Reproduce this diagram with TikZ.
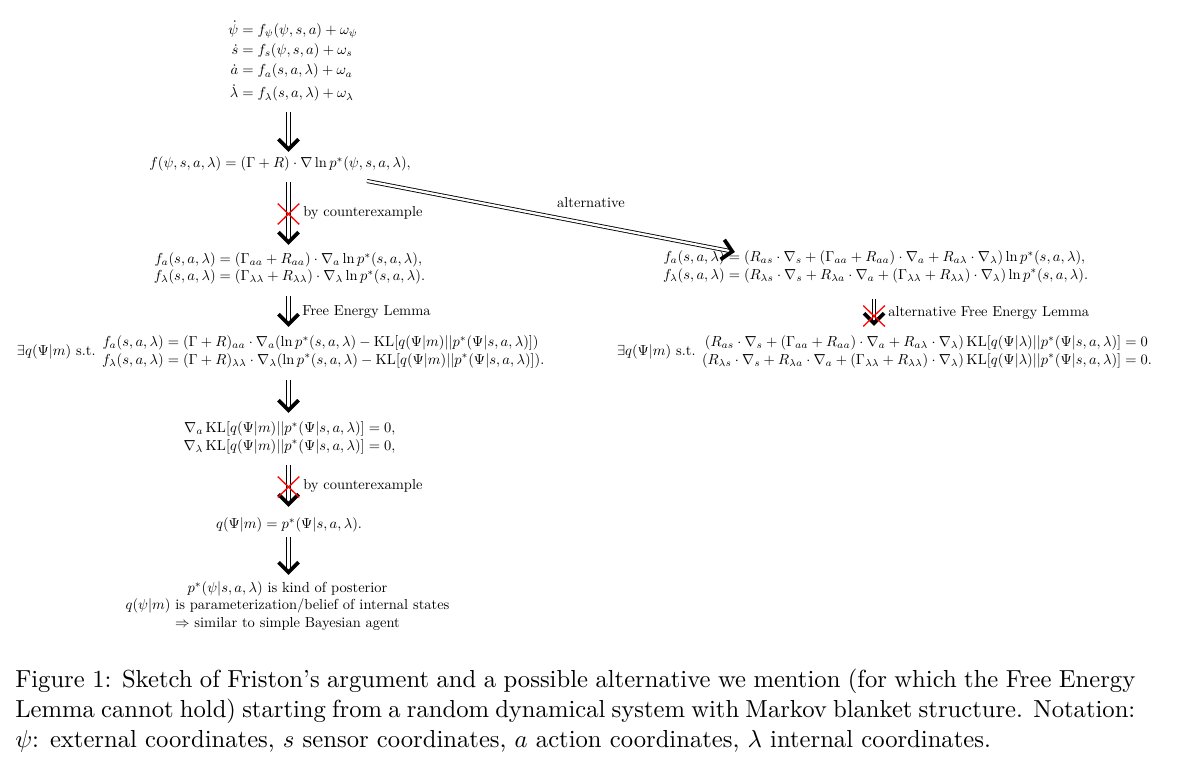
\documentclass[tikz,border=0pt]{standalone}
\usepackage{amsmath,amssymb}
\usepackage{graphicx}
\usetikzlibrary{calc,decorations.markings,shapes.misc}
\setlength{\arraycolsep}{0pt}
\begin{document}
\begin{tikzpicture}[x=0.69pt, y=-0.69pt,
  txt/.style={inner sep=0pt, outer sep=0pt},
  shaft/.style={double, double distance=1.6pt, line width=0.6pt, shorten >=2.5pt},
  headmark/.style={decorate, decoration={markings, mark=at position 1 with {\draw[line width=2.6pt, line join=miter] (-8.8pt,6.9pt) -- (-1.9pt,0pt) -- (-8.8pt,-6.9pt);}}},
  cross/.style={cross out, draw=red, line width=0.9pt, minimum width=14pt, minimum height=13.5pt, inner sep=0pt},
  lab/.style={inner sep=0pt, anchor=west},
]
\useasboundingbox (0,0) rectangle (1200,775);
\coordinate (spine) at (288.5,0);
\coordinate (spineR) at (874,0);

% left column
\node[txt] (e1) at (293,62) {\setlength{\jot}{2pt}$\begin{aligned}
 \dot\psi &= f_\psi(\psi,s,a)+\omega_\psi\\
 \dot s &= f_s(\psi,s,a)+\omega_s\\
 \dot a &= f_a(s,a,\lambda)+\omega_a\\
 \dot\lambda &= f_\lambda(s,a,\lambda)+\omega_\lambda
\end{aligned}$};

\node[txt] (e2) at (280,164) {$f(\psi,s,a,\lambda) = (\Gamma+R)\cdot\nabla\ln p^*(\psi,s,a,\lambda),$};

\node[txt] (e3) at (289.5,268.5) {$\begin{array}{r@{}l}
 f_a(s,a,\lambda) &{}= (\Gamma_{aa}+R_{aa})\cdot\nabla_a\ln p^*(s,a,\lambda),\\
 f_\lambda(s,a,\lambda) &{}= (\Gamma_{\lambda\lambda}+R_{\lambda\lambda})\cdot\nabla_\lambda\ln p^*(s,a,\lambda).
\end{array}$};

\node[txt, anchor=west] (e4) at (17,352) {$\exists q(\Psi|m)\text{ s.t. }\begin{array}{r@{}l}
 f_a(s,a,\lambda) &{}= (\Gamma+R)_{aa}\cdot\nabla_a(\ln p^*(s,a,\lambda)-\operatorname{KL}[q(\Psi|m)||p^*(\Psi|s,a,\lambda)])\\
 f_\lambda(s,a,\lambda) &{}= (\Gamma+R)_{\lambda\lambda}\cdot\nabla_\lambda(\ln p^*(s,a,\lambda)-\operatorname{KL}[q(\Psi|m)||p^*(\Psi|s,a,\lambda)]).
\end{array}$};

\node[txt] (e5) at (289.5,438) {$\begin{array}{r@{}l}
 \nabla_a\operatorname{KL}[q(\Psi|m)||p^*(\Psi|s,a,\lambda)] &{}= 0,\\
 \nabla_\lambda\operatorname{KL}[q(\Psi|m)||p^*(\Psi|s,a,\lambda)] &{}= 0,
\end{array}$};

\node[txt] (e6) at (289,525) {$q(\Psi|m) = p^*(\Psi|s,a,\lambda).$};

\node[txt, align=center] (e7) at (287.5,606) {$p^*(\psi|s,a,\lambda)$ is kind of posterior\\
 $q(\psi|m)$ is parameterization/belief of internal states\\
 $\Rightarrow$ similar to simple Bayesian agent};

% right column
\node[txt, anchor=west] (e3r) at (663,267) {$\begin{array}{r@{}l}
 f_a(s,a,\lambda) &{}= (R_{as}\cdot\nabla_s+(\Gamma_{aa}+R_{aa})\cdot\nabla_a+R_{a\lambda}\cdot\nabla_\lambda)\ln p^*(s,a,\lambda),\\
 f_\lambda(s,a,\lambda) &{}= (R_{\lambda s}\cdot\nabla_s+R_{\lambda a}\cdot\nabla_a+(\Gamma_{\lambda\lambda}+R_{\lambda\lambda})\cdot\nabla_\lambda)\ln p^*(s,a,\lambda).
\end{array}$};

\node[txt, anchor=west] (e4r) at (617,352) {$\exists q(\Psi|m)\text{ s.t. }\begin{array}{r@{}l}
 (R_{as}\cdot\nabla_s+(\Gamma_{aa}+R_{aa})\cdot\nabla_a+R_{a\lambda}\cdot\nabla_\lambda)\operatorname{KL}[q(\Psi|\lambda)||p^*(\Psi|s,a,\lambda)] &{}= 0\\
 (R_{\lambda s}\cdot\nabla_s+R_{\lambda a}\cdot\nabla_a+(\Gamma_{\lambda\lambda}+R_{\lambda\lambda})\cdot\nabla_\lambda)\operatorname{KL}[q(\Psi|\lambda)||p^*(\Psi|s,a,\lambda)] &{}= 0.
\end{array}$};

% arrows
\draw[shaft] ($(e1.center -| spine)+(0,50)$) -- ($(e2.center -| spine)+(0,-12)$);
\path[headmark] ($(e1.center -| spine)+(0,50)$) -- ($(e2.center -| spine)+(0,-12)$);

\draw[shaft] ($(e2.center -| spine)+(0,18)$) -- ($(e3.center -| spine)+(0,-23.5)$);
\path[headmark] ($(e2.center -| spine)+(0,18)$) -- ($(e3.center -| spine)+(0,-23.5)$);

\draw[shaft] ($(e3.center -| spine)+(0,27.5)$) -- ($(e4.center -| spine)+(0,-25)$);
\path[headmark] ($(e3.center -| spine)+(0,27.5)$) -- ($(e4.center -| spine)+(0,-25)$);

\draw[shaft] ($(e4.center -| spine)+(0,28)$) -- ($(e5.center -| spine)+(0,-25)$);
\path[headmark] ($(e4.center -| spine)+(0,28)$) -- ($(e5.center -| spine)+(0,-25)$);

\draw[shaft] ($(e5.center -| spine)+(0,27)$) -- ($(e6.center -| spine)+(0,-18)$);
\path[headmark] ($(e5.center -| spine)+(0,27)$) -- ($(e6.center -| spine)+(0,-18)$);

\draw[shaft] ($(e6.center -| spine)+(0,12)$) -- ($(e7.center -| spine)+(0,-31)$);
\path[headmark] ($(e6.center -| spine)+(0,12)$) -- ($(e7.center -| spine)+(0,-31)$);

\draw[shaft] ($(e2.center)+(87,17)$) -- ($(e3r.west)+(72,-15)$);
\path[headmark] ($(e2.center)+(87,17)$) -- ($(e3r.west)+(72,-15)$);

\draw[shaft] ($(e3r.west -| spineR)+(0,32)$) -- ($(e4r.west -| spineR)+(0,-26)$);
\path[headmark] ($(e3r.west -| spineR)+(0,32)$) -- ($(e4r.west -| spineR)+(0,-26)$);

% crosses
\node[cross] (x1) at (288.5,214) {};
\node[cross] (x2) at (288.5,487) {};
\node[cross] (x3) at (874,316) {};

% labels
\node[lab] (l1) at (303,213) {by counterexample};
\node[lab] (l2) at (302,312) {Free Energy Lemma};
\node[lab] (l3) at (303,486) {by counterexample};
\node[lab] (l4) at (888,313) {alternative Free Energy Lemma};
\node[inner sep=0pt] (l5) at (591,203) {alternative};

% caption
\node[anchor=north west, inner sep=0pt] (cap) at (15,669)
{\scalebox{1.7}{\parbox[t]{454.6pt}{\fontsize{10}{12.1}\selectfont\hyphenpenalty=10000\exhyphenpenalty=10000
Figure 1: Sketch of Friston's argument and a possible alternative we mention (for which the Free Energy\linebreak
Lemma cannot hold) starting from a random dynamical system with Markov blanket structure. Notation:\linebreak
$\psi$: external coordinates, $s$ sensor coordinates, $a$ action coordinates, $\lambda$ internal coordinates.}}};
\end{tikzpicture}
\end{document}
